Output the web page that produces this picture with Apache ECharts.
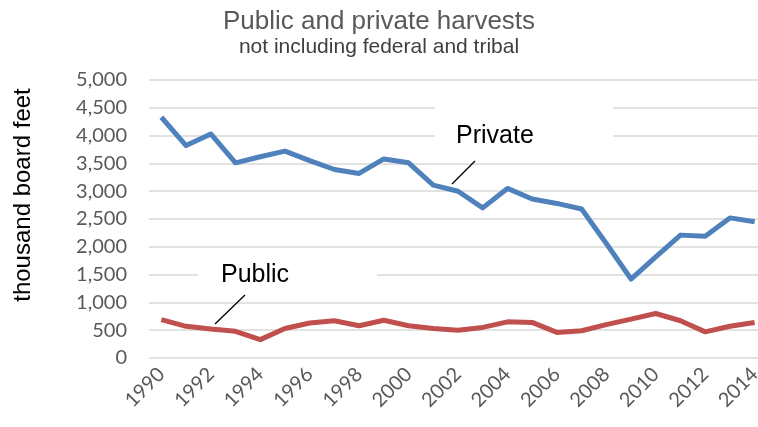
<!DOCTYPE html>
<html><head><meta charset="utf-8">
<script src="https://cdn.jsdelivr.net/npm/echarts@6/dist/echarts.min.js"></script>
<style>html,body{margin:0;padding:0;background:#fff}#c{width:758px;height:427px}</style>
</head><body><div id="c"></div>
<script>
var years = ['1990','1991','1992','1993','1994','1995','1996','1997','1998','1999','2000','2001','2002','2003','2004','2005','2006','2007','2008','2009','2010','2011','2012','2013','2014'];
var privateVals = [4330,3820,4030,3510,3620,3720,3550,3390,3320,3580,3510,3110,3000,2700,3050,2860,2780,2680,2060,1420,1820,2210,2190,2520,2450];
var publicVals = [690,570,520,480,330,530,630,670,580,680,580,530,500,550,650,640,460,490,600,700,800,670,470,570,640];
var yTicks = {min:0, max:5000, interval:500};

var chart = echarts.init(document.getElementById('c'), null, {renderer:'canvas'});
var tickFont = 'Lato, "Open Sans", sans-serif';
var arial = '"Liberation Sans", Arial, sans-serif';
chart.setOption({
  animation:false,
  title:{
    text:'Public and private harvests',
    subtext:'not including federal and tribal',
    left:'center', top:4, itemGap:2,
    textStyle:{fontFamily:arial, fontSize:26, fontWeight:'normal', color:'#595959'},
    subtextStyle:{fontFamily:arial, fontSize:21, color:'#404040'}
  },
  grid:{left:149, width:618, top:80, bottom:69, outerBoundsMode:'none', containLabel:false},
  xAxis:{
    type:'category', data:years, boundaryGap:true,
    axisLine:{show:false}, axisTick:{show:false},
    axisLabel:{interval:1, rotate:45, margin:13, fontFamily:tickFont, fontSize:20, color:'#595959'}
  },
  yAxis:{
    type:'value', min:yTicks.min, max:yTicks.max, interval:yTicks.interval,
    axisLine:{show:false}, axisTick:{show:false},
    axisLabel:{margin:22, fontFamily:tickFont, fontSize:20, color:'#595959',
      formatter:function(v){return v.toLocaleString('en-US');}},
    splitLine:{lineStyle:{color:'#D9D9D9', width:1.5}}
  },
  series:[
    {name:'Private', type:'line', data:privateVals, symbol:'none', z:3,
     lineStyle:{color:'#4F81BD', width:5, join:'round'}},
    {name:'Public', type:'line', data:publicVals, symbol:'none', z:3,
     lineStyle:{color:'#C0504D', width:5, join:'round'}}
  ],
  graphic:[
    {type:'text', z:4, x:23, y:195, rotation:Math.PI/2,
     style:{text:'thousand board feet', font:'24px "Liberation Sans", Arial, sans-serif', fill:'#000', align:'center', verticalAlign:'middle'}},
    {type:'rect', z:1, shape:{x:435, y:104, width:178, height:44}, style:{fill:'#fff'}},
    {type:'text', z:4, left:456, top:124, style:{text:'Private', font:'25px "Liberation Sans", Arial, sans-serif', fill:'#000'}},
    {type:'line', z:4, shape:{x1:452, y1:184, x2:475, y2:161}, style:{stroke:'#000', lineWidth:1.3}},
    {type:'rect', z:1, shape:{x:198, y:262, width:179, height:30}, style:{fill:'#fff'}},
    {type:'text', z:4, left:221, top:263, style:{text:'Public', font:'25px "Liberation Sans", Arial, sans-serif', fill:'#000'}},
    {type:'line', z:4, shape:{x1:245, y1:295, x2:215, y2:324}, style:{stroke:'#000', lineWidth:1.3}}
  ]
});
</script></body></html>
